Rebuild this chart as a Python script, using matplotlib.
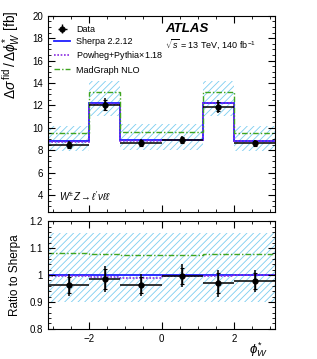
import numpy as np
import matplotlib
matplotlib.use('Agg')
import matplotlib.pyplot as plt
from matplotlib.ticker import MultipleLocator, FixedLocator
from matplotlib.lines import Line2D

plt.rcParams['font.family'] = ['Liberation Sans', 'DejaVu Sans']
plt.rcParams['mathtext.fontset'] = 'custom'
plt.rcParams['mathtext.rm'] = 'Liberation Sans'
plt.rcParams['mathtext.it'] = 'Liberation Sans:italic'
plt.rcParams['mathtext.bf'] = 'Liberation Sans:bold'
plt.rcParams['hatch.linewidth'] = 0.6

#bin edges in phi*_W
edges = [-np.pi, -2.0, -1.15, 0.0, 1.15, 2.0, np.pi]

#cross sections [fb]
data = [8.48, 12.07, 8.60, 8.92, 11.90, 8.60]
sherpa = [8.80, 12.25, 8.95, 8.95, 12.25, 8.80]
powheg = [8.77, 12.16, 8.86, 8.93, 12.22, 8.80]
madgraph = [9.50, 13.23, 9.60, 9.60, 13.20, 9.50]

#ratio to sherpa
data_ratio = [0.963, 0.985, 0.962, 0.997, 0.970, 0.978]
data_ratio_tot = [0.042, 0.050, 0.040, 0.042, 0.050, 0.040]
data_ratio_stat = [0.030, 0.036, 0.030, 0.030, 0.036, 0.030]
powheg_ratio = [0.997, 0.993, 0.990, 0.998, 0.998, 1.000]
madgraph_ratio = [1.080, 1.078, 1.073, 1.073, 1.078, 1.078]
band_up = [1.155, 1.155, 1.155, 1.155, 1.155, 1.155]
band_down = [0.900, 0.900, 0.900, 0.900, 0.900, 0.900]

edges = np.array(edges)
centres = 0.5*(edges[1:]+edges[:-1])
halfw = 0.5*(edges[1:]-edges[:-1])

def steps(vals):
    return np.append(vals, vals[-1])

fig = plt.figure(figsize=(3.17, 3.59), dpi=100)
ax1 = fig.add_axes([0.151, 0.410, 0.717, 0.546])
ax2 = fig.add_axes([0.151, 0.084, 0.717, 0.300])

band_col = '#7ccdf0'
c_sherpa = '#1f1fff'
c_powheg = '#8a2be2'
c_mg = '#3fa520'
ls_pw = (0, (1, 1))
ls_mg = (0, (4, 1.5, 1, 1.5))

#top panel
sh = np.array(sherpa)
ax1.fill_between(edges, steps(sh*np.array(band_down)), steps(sh*np.array(band_up)), step='post',
                 facecolor='none', edgecolor=band_col, hatch='/////', linewidth=0)
ax1.stairs(sherpa, edges, color=c_sherpa, lw=1.3, baseline=None)
ax1.stairs(powheg, edges, color=c_powheg, lw=1.2, ls=ls_pw, baseline=None)
ax1.stairs(madgraph, edges, color=c_mg, lw=1.0, ls=ls_mg, baseline=None)
ax1.errorbar(centres, data, xerr=halfw, yerr=sh*np.array(data_ratio_tot), fmt='o', color='k', ms=3.5,
             lw=1.1, capsize=0)
ax1.errorbar(centres, data, yerr=sh*np.array(data_ratio_stat), fmt='none', color='k', lw=1.0,
             capsize=1.5, capthick=0.8)

ax1.set_xlim(-np.pi, np.pi)
ax1.set_ylim(2.5, 20)
ax1.set_ylabel(r'$\Delta\sigma^{\,\mathrm{fid}}\,/\,\Delta\phi^{*}_{W}$ [fb]', fontsize=10, ha='right')
ax1.yaxis.set_major_locator(FixedLocator([4, 6, 8, 10, 12, 14, 16, 18, 20]))
ax1.yaxis.set_minor_locator(MultipleLocator(0.5))
ax1.xaxis.set_major_locator(MultipleLocator(2))
ax1.xaxis.set_minor_locator(MultipleLocator(0.5))
ax1.tick_params(labelbottom=False)

h_data = ax1.errorbar([], [], xerr=[], yerr=[], fmt='o', color='k', ms=3.5, lw=1.0)
h_sh = Line2D([], [], color=c_sherpa, lw=1.3)
h_pw = Line2D([], [], color=c_powheg, lw=1.2, ls=ls_pw)
h_mg = Line2D([], [], color=c_mg, lw=1.0, ls=ls_mg)
ax1.legend([h_data, h_sh, h_pw, h_mg], ['Data', 'Sherpa 2.2.12', r'Powheg+Pythia$\times$1.18', 'MadGraph NLO'],
           loc='upper left', bbox_to_anchor=(0.0, 0.985), frameon=False, fontsize=6.5,
           handlelength=1.8, handletextpad=0.6, labelspacing=0.35, borderaxespad=0.3)

ax1.text(0.515, 0.935, 'ATLAS', transform=ax1.transAxes, fontsize=9.5, fontweight='bold', style='italic', va='center')
ax1.text(0.515, 0.855, r'$\sqrt{s}$ = 13 TeV, 140 fb$^{-1}$', transform=ax1.transAxes, fontsize=6.5, va='center')
ax1.text(0.05, 0.08, r'$W^{\pm}Z \rightarrow \ell^{\prime}\nu\ell\ell$', transform=ax1.transAxes, fontsize=7, va='center')

#ratio panel
ax2.fill_between(edges, steps(band_down), steps(band_up), step='post',
                 facecolor='none', edgecolor=band_col, hatch='/////', linewidth=0)
ax2.stairs(np.ones(6), edges, color=c_sherpa, lw=1.3, baseline=None)
ax2.stairs(powheg_ratio, edges, color=c_powheg, lw=1.2, ls=ls_pw, baseline=None)
ax2.stairs(madgraph_ratio, edges, color=c_mg, lw=1.0, ls=ls_mg, baseline=None)
ax2.errorbar(centres, data_ratio, xerr=halfw, yerr=data_ratio_tot, fmt='o', color='k', ms=3.5,
             lw=1.1, capsize=0)
ax2.errorbar(centres, data_ratio, yerr=data_ratio_stat, fmt='none', color='k', lw=1.0,
             capsize=1.5, capthick=0.8)

ax2.set_xlim(-np.pi, np.pi)
ax2.set_ylim(0.8, 1.2)
ax2.set_yticks([0.8, 0.9, 1.0, 1.1, 1.2])
ax2.set_yticklabels(['0.8', '0.9', '1', '1.1', '1.2'])
ax2.yaxis.set_minor_locator(MultipleLocator(0.02))
ax2.set_xticks([-2, 0, 2])
ax2.set_xticklabels(['\u22122', '0', '2'])
ax2.xaxis.set_minor_locator(MultipleLocator(0.5))
ax2.set_ylabel('Ratio to Sherpa', fontsize=8.5)
fig.text(268/317, 1-350/359, r'$\phi^{*}_{W}$', fontsize=9.5, ha='right', va='center')

for ax in [ax1, ax2]:
    ax.tick_params(which='both', direction='in', top=True, right=True, labelsize=7)
    ax.tick_params(which='major', length=5)
    ax.tick_params(which='minor', length=2.5)
    for s in ax.spines.values():
        s.set_linewidth(0.8)

ax1.yaxis.set_label_coords(-0.115, 1.03)
ax2.yaxis.set_label_coords(-0.12, 0.5)

fig.savefig('out.png', dpi=100)
